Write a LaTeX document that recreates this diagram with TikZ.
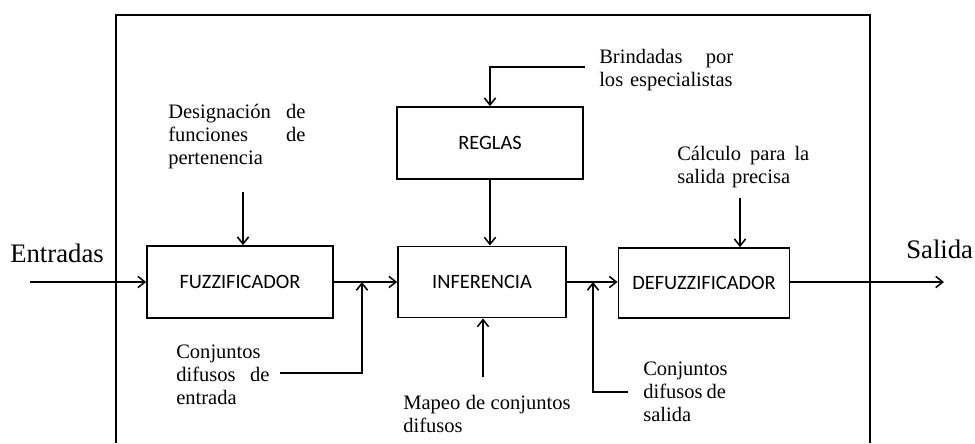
\documentclass[tikz,border=0pt]{standalone}
\usepackage{fontspec}
\setmainfont{Liberation Serif}
\newfontfamily\cajafont{Carlito}
\usetikzlibrary{arrows.meta}
\hyphenpenalty=10000
\tikzset{
    bloque/.style={
        draw,
        line width=1.2pt,
        inner sep=0pt,
        font=\cajafont\fontsize{14.5}{15}\selectfont
    },
    etiqueta/.style={
        anchor=north west,
        inner sep=0pt,
        align=left,
        font=\fontsize{14.6}{16.3}\selectfont
    },
    titulo/.style={
        anchor=base west,
        inner sep=0pt,
        font=\fontsize{19}{20}\selectfont
    },
    flecha/.style={
        line width=1.1pt,
        -{Straight Barb[length=5pt,width=8pt]}
    },
    linea/.style={
        line width=1.1pt
    }
}

\begin{document}
\begin{tikzpicture}[x=0.025cm, y=-0.025cm]
\useasboundingbox (0,0) rectangle (975,443);

\draw[linea] (116,443) -- (116,15) -- (870,15) -- (870,443);

\node[bloque, minimum width=4.65cm, minimum height=1.8cm] (fuzz) at (240,282) {FUZZIFICADOR};
\node[bloque, minimum width=4.2cm, minimum height=1.78cm] (inf) at (482,282) {INFERENCIA};
\node[bloque, minimum width=4.28cm, minimum height=1.75cm] (defuzz) at (704,283) {DEFUZZIFICADOR};
\node[bloque, minimum width=4.65cm, minimum height=1.8cm] (reglas) at (490,143) {REGLAS};

\node[titulo] (entr) at (10,262) {Entradas};
\node[titulo] (sali) at (906,258) {Salida};

\node[etiqueta, text width=3.43cm] (desig) at (168,104) {Designación\hfill de\\funciones\hfill de\\pertenencia};
\node[etiqueta, text width=3.35cm] (brind) at (599,49) {Brindadas\hfill por\\los especialistas};
\node[etiqueta, text width=3.3cm] (calc) at (677,146) {Cálculo\hfill para\hfill la\\salida precisa};
\node[etiqueta, text width=2.33cm] (cje) at (176,345) {Conjuntos\\difusos\hfill de\\entrada};
\node[etiqueta, text width=2.07cm] (cjs) at (643,362) {Conjuntos\\difusos\hfill de\\salida};
\node[etiqueta, text width=4.18cm] (mapeo) at (403,395) {Mapeo\hfill de\hfill conjuntos\\difusos};

\coordinate (ent) at (30,282);
\coordinate (sal) at (944,282);
\coordinate (j1) at (362,282);
\coordinate (j2) at (593,282);
\coordinate (c1) at (280,373);
\coordinate (c2) at (628,392);
\coordinate (m1) at (483,377);
\coordinate (d1) at (243,192);
\coordinate (k1) at (740,198);
\coordinate (b1) at (585,67);

\draw[flecha] (ent) -- (fuzz.west);
\draw[flecha] (fuzz.east) -- (inf.west);
\draw[flecha] (inf.east) -- (inf.east -| defuzz.west);
\draw[flecha] (defuzz.east |- sal) -- (sal);
\draw[flecha] (c1) -| (j1);
\draw[flecha] (c2) -| (j2);
\draw[flecha] (m1) -- (m1 |- inf.south);
\draw[flecha] (d1) -- (d1 |- fuzz.north);
\draw[flecha] (k1) -- (k1 |- defuzz.north);
\draw[flecha] (b1) -| (reglas.north);
\draw[flecha] (reglas.south) -- (reglas.south |- inf.north);
\end{tikzpicture}
\end{document}
